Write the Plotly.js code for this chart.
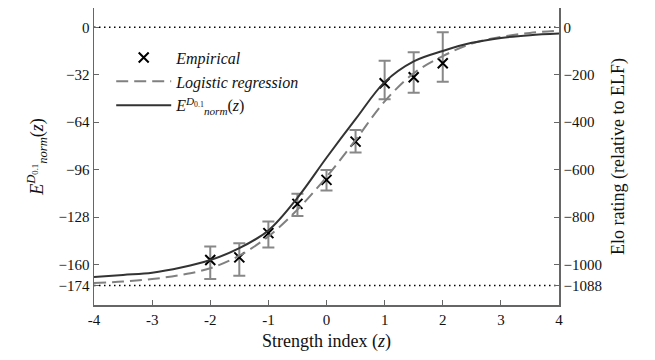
<!DOCTYPE html>
<html>
<head>
<meta charset="utf-8">
<script src="https://cdn.plot.ly/plotly-3.0.1.min.js"></script>
<style>html,body{margin:0;padding:0;background:#fff;}#chart{width:655px;height:360px;}</style>
</head>
<body>
<div id="chart"></div>
<script>
// Empirical points
var empZ = [-2, -1.5, -1, -0.5, 0, 0.5, 1, 1.5, 2];
var empE = [-157, -155.2, -138.8, -119.1, -102.9, -77.1, -37.7, -33.7, -24.3];
var empErrPlus = [9.2, 9.6, 7.8, 6.8, 6.7, 7.9, 15.2, 16.9, 20.9];
var empErrMinus = [12.8, 12.4, 9.7, 8.1, 7.2, 7.4, 10.8, 10.4, 12.4];

// Curves
var curveZ = [-4, -3.5, -3, -2.5, -2, -1.5, -1, -0.5, 0, 0.5, 1, 1.5, 2, 2.5, 3, 3.5, 4];
var logisticE = [-172.5, -171.5, -169.8, -167, -162.5, -154, -141, -123, -101, -76, -50, -31, -19.5, -11, -6.5, -3.8, -2.2];
var normE = [-168.5, -167, -165.5, -162, -157, -149, -137, -115, -88, -62, -37, -23, -16, -10.5, -7.2, -5.3, -4.2];

// Reference lines (Elo, right axis)
var refZ = [-4, 4];
var refEloTop = [0, 0];
var refEloBottom = [-1088, -1088];

// Ticks
var xTickVals = [-4, -3, -2, -1, 0, 1, 2, 3, 4];
var xTickText = ["-4", "-3", "-2", "-1", "0", "1", "2", "3", "4"];
var yTickVals = [0, -32, -64, -96, -128, -160, -174];
var yTickText = ["0", "\u221232", "\u221264", "\u221296", "\u2212128", "\u2212160", "\u2212174"];
var y2TickVals = [0, -200, -400, -600, -800, -1000, -1088];
var y2TickText = ["0", "\u2212200", "\u2212400", "\u2212600", "\u2212800", "\u22121000", "\u22121088"];

var eloScale = 6.25;
var yRange = [-187.3, 13];

var font = "'Liberation Serif', 'DejaVu Serif', serif";

var traces = [
  {x: refZ, y: refEloTop, yaxis: 'y2', mode: 'lines', line: {color: '#000', dash: '1.5px,3.5px', width: 1.5}, showlegend: false, hoverinfo: 'skip'},
  {x: refZ, y: refEloBottom, yaxis: 'y2', mode: 'lines', line: {color: '#000', dash: '1.5px,3.5px', width: 1.5}, showlegend: false, hoverinfo: 'skip'},
  {x: empZ, y: empE, mode: 'markers', name: '<i>Empirical</i>',
   marker: {symbol: 'x-thin', size: 10, color: '#000', line: {color: '#000', width: 2}},
   error_y: {type: 'data', symmetric: false, array: empErrPlus, arrayminus: empErrMinus, color: '#888', thickness: 2, width: 6}},
  {x: curveZ, y: logisticE, mode: 'lines', name: '<i>Logistic regression</i>', line: {color: '#808080', width: 2, dash: '12px,6px', shape: 'spline'}},
  {x: curveZ, y: normE, mode: 'lines', name: '<i>E</i><sup><i>D</i><sub>0.1</sub></sup><sub><i>norm</i></sub>(<i>z</i>)', line: {color: '#333', width: 2, shape: 'spline'}}
];

var layout = {
  width: 655, height: 360,
  margin: {l: 94, r: 96, t: 8, b: 55},
  paper_bgcolor: '#fff', plot_bgcolor: '#fff',
  font: {family: font, size: 15, color: '#111'},
  showlegend: true,
  legend: {x: 0.037, y: 0.89, xanchor: 'left', yanchor: 'top', bgcolor: 'rgba(0,0,0,0)', itemwidth: 55, font: {family: font, size: 16}, tracegroupgap: 0},
  xaxis: {
    range: [-4, 4], tickvals: xTickVals, ticktext: xTickText,
    showgrid: false, zeroline: false, showline: true, linecolor: '#666', linewidth: 1.5,
    ticks: 'inside', ticklen: 5, tickcolor: '#666', mirror: false,
    tickfont: {family: font, size: 15},
    title: {text: 'Strength index (<i>z</i>)', font: {family: font, size: 18}, standoff: 8}
  },
  yaxis: {
    range: yRange, tickvals: yTickVals, ticktext: yTickText,
    showgrid: false, zeroline: false, showline: true, linecolor: '#666', linewidth: 1.5,
    ticks: 'inside', ticklen: 5, tickcolor: '#666',
    tickfont: {family: font, size: 15},
    title: {text: '<i>E</i><sup><i>D</i><sub>0.1</sub></sup><sub><i>norm</i></sub>(<i>z</i>)', font: {family: font, size: 18}, standoff: 10}
  },
  yaxis2: {
    overlaying: 'y', side: 'right',
    range: [yRange[0] * eloScale, yRange[1] * eloScale], tickvals: y2TickVals, ticktext: y2TickText,
    showgrid: false, zeroline: false, showline: true, linecolor: '#666', linewidth: 1.5,
    ticks: 'inside', ticklen: 5, tickcolor: '#666',
    tickfont: {family: font, size: 15},
    title: {text: 'Elo rating (relative to ELF)', font: {family: font, size: 18}, standoff: 10}
  }
};

Plotly.newPlot('chart', traces, layout, {displayModeBar: false, staticPlot: true});
</script>
</body>
</html>
